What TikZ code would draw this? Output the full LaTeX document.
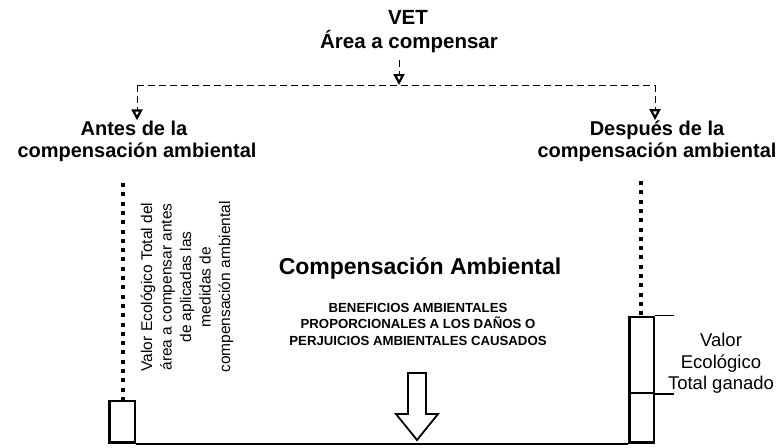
\documentclass[tikz,border=0pt]{standalone}
\usepackage{fontspec}
\setmainfont{Liberation Sans}
\usetikzlibrary{arrows.meta,positioning}

\tikzset{
  titulo/.style={font=\fontsize{20}{22}\selectfont\bfseries, inner sep=0pt, anchor=base},
  rama/.style={dash pattern=on 7pt off 4pt, line width=0.7pt},
  flecha/.style={rama, -{Triangle[open,length=11pt,width=11pt,line width=2.2pt]}},
  puntos/.style={line width=4pt, dash pattern=on 4pt off 5.3pt},
  caja/.style={draw, line width=2.5pt, inner sep=0pt},
}

\begin{document}
\begin{tikzpicture}[x=1pt,y=-1pt]
\useasboundingbox (0,0) rectangle (778,447);

%%%%%%%%%%%%%%%%%%%%%%%%%%%%%%%
\node[titulo, font=\fontsize{20.5}{22}\selectfont\bfseries] (vet) at (408,24) {VET};
\node[titulo, font=\fontsize{20.5}{22}\selectfont\bfseries] (area) at (409,48) {Área a compensar};

\node[titulo] (antes) at (134,135) {Antes de la};
\node[titulo] (antesb) at (137,157) {compensación ambiental};
\node[titulo] (despues) at (657,135) {Después de la};
\node[titulo] (despuesb) at (657,157) {compensación ambiental};

\coordinate (ramaA) at (399,60);
\coordinate (ramaB) at (399,85);
\coordinate (izq) at (137,85);
\coordinate (der) at (655,85);

\draw[flecha] (ramaA) -- (ramaB);
\draw[rama] (izq) -- (der);
\draw[flecha] (izq) -- (izq |- antes.north);
\draw[flecha] (der) -- (der |- despues.north);

%%%%%%%%%%%%%%%%%%%%%%%%%%%%%%%
\node[caja, minimum width=25.5pt, minimum height=41.5pt, anchor=south west]
  (antesbox) at (108.25,443.75) {};
\node[caja, minimum width=24.5pt, minimum height=76pt, anchor=south west]
  (ganado) at (628.25,394) {};
\node[caja, minimum width=24.5pt, minimum height=49.75pt, anchor=south west]
  (actual) at (628.25,443.75) {};

\coordinate (puntoA) at (123,183);
\coordinate (puntoB) at (641,181);
\draw[puntos] (puntoA) -- (puntoA |- antesbox.north);
\draw[puntos] (puntoB) -- (puntoB |- ganado.north);

\draw[line width=1.5pt] (ganado.north east) -- ++(19,0);
\draw[line width=1.5pt] (ganado.south east) -- ++(19,0);
\draw[line width=2pt] (antesbox.south east) -- (actual.south west);

%%%%%%%%%%%%%%%%%%%%%%%%%%%%%%%
\node[rotate=90, align=center, font=\fontsize{15.5}{19.5}\selectfont]
  (vetantes) at (187,287) {Valor Ecológico Total del\\área a compensar antes\\de aplicadas las\\medidas de\\compensación ambiental};

\node[align=center, anchor=north, inner sep=0pt, font=\fontsize{18.5}{21.5}\selectfont]
  (vetganado) at (721,333) {Valor\\Ecológico\\Total ganado};

\node[anchor=base, inner sep=0pt, font=\fontsize{23}{26}\selectfont\bfseries]
  (compensacion) at (420,274) {Compensación Ambiental};
\node[anchor=north, align=center, inner sep=0pt, font=\fontsize{13.2}{16.5}\selectfont\bfseries]
  (beneficios) at (418,303) {BENEFICIOS AMBIENTALES\\PROPORCIONALES A LOS DAÑOS O\\PERJUICIOS AMBIENTALES CAUSADOS};

\draw[line width=1.8pt, fill=white, line join=miter]
  (408,373) -- (426,373) -- (426,414) -- (438,414) -- (417,440)
  -- (396,414) -- (408,414) -- cycle;
\end{tikzpicture}
\end{document}
